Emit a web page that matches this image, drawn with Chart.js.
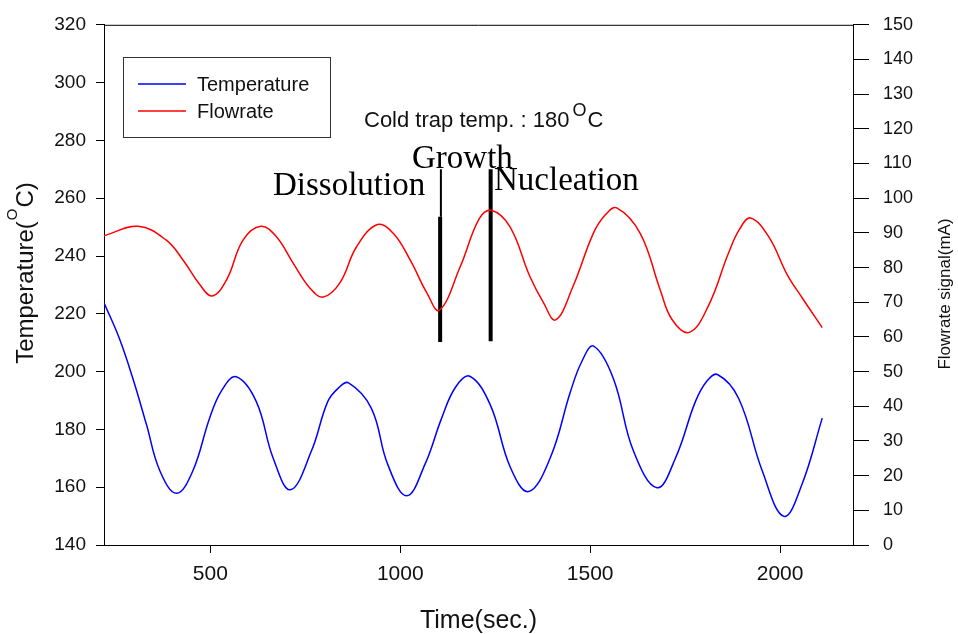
<!DOCTYPE html>
<html>
<head>
<title>Temperature / Flowrate</title>
<script src="https://cdn.jsdelivr.net/npm/chart.js@4.4.0/dist/chart.umd.min.js"></script>
<style>
body { margin:0; background:#ffffff; }
#wrap { width:958px; height:634px; }
</style>
</head>
<body>
<div id="wrap"><canvas id="myChart" width="958" height="634"></canvas></div>
<script>
// temperature (left axis, oC)
var tempTime  = [220, 261, 296, 332, 367, 411, 454, 498, 530, 568, 621, 665, 711, 766, 809, 837, 864, 924, 967, 1017, 1065, 1109, 1145,
                 1183, 1237, 1290, 1338, 1395, 1448, 1478, 1509, 1561, 1614, 1676, 1725, 1777, 1806, 1835, 1891, 1953, 2010, 2058, 2111];
var tempValue = [223.8, 211.3, 197.6, 181.6, 165.7, 157.9, 165.7, 183.9, 193.5, 198.2, 189.6, 170.2, 159.1, 172.5, 189.6, 194.3, 196.1, 187.3, 167.9, 157.0, 167.9, 183.9, 194.5,
                 198.4, 188.5, 166.8, 158.5, 170.2, 193.0, 203.5, 208.8, 197.6, 172.5, 159.8, 170.2, 189.6, 196.5, 199.0, 190.7, 165.7, 149.9, 161.1, 183.9];
// flowrate signal (right axis, mA)
var flowTime  = [220, 310, 384, 428, 472, 505, 543, 586, 633, 674, 718, 762, 797, 841, 885, 940, 982, 1026, 1070, 1103,
                 1158, 1208, 1240, 1289, 1341, 1377, 1409, 1455, 1508, 1540, 1570, 1632, 1684, 1715, 1761, 1811, 1864, 1893, 1922, 1970, 2019, 2058, 2111];
var flowValue = [89.2, 91.9, 87.9, 82.2, 75.1, 71.8, 76.5, 87.9, 91.9, 88.9, 81.3, 74.1, 71.5, 75.6, 86.0, 92.4, 89.8, 82.2, 72.7, 67.7,
                 80.3, 94.1, 96.5, 91.7, 77.5, 69.9, 64.9, 74.6, 89.8, 95.2, 97.2, 89.8, 73.7, 65.1, 61.3, 68.9, 84.1, 91.0, 94.3, 88.9, 77.9, 71.3, 62.7];
var xTicks = [500, 1000, 1500, 2000];
// phase markers (time, temperature-axis span)
var markerTime   = [1105, 1238];
var markerBottom = [210.2, 210.5];
var markerTop    = [253.6, 270.0];
var growthTop = 270.0;

var xMin = 220, xMax = 2192;
var tempMin = 140, tempMax = 320;
var flowMin = 0, flowMax = 150;

function pts(xs, ys) {
  return xs.map(function (x, i) { return { x: x, y: ys[i] }; });
}

var datasets = [
  { label: 'Temperature', data: pts(tempTime, tempValue), yAxisID: 'yT', borderColor: '#0000ff', borderWidth: 1.5, pointRadius: 0, tension: 0.4 },
  { label: 'Flowrate', data: pts(flowTime, flowValue), yAxisID: 'yF', borderColor: '#ff0000', borderWidth: 1.5, pointRadius: 0, tension: 0.4 }
];
markerTime.forEach(function (t, i) {
  datasets.push({ label: 'marker' + i, data: [{ x: t, y: markerBottom[i] }, { x: t, y: markerTop[i] }], yAxisID: 'yT',
    borderColor: '#000000', borderWidth: 4, pointRadius: 0, borderCapStyle: 'butt' });
});
datasets.push({ label: 'marker-thin', data: [{ x: markerTime[0] + 2, y: markerTop[0] }, { x: markerTime[0] + 2, y: growthTop }], yAxisID: 'yT',
  borderColor: '#000000', borderWidth: 2, pointRadius: 0, borderCapStyle: 'butt' });

var textPlugin = {
  id: 'texts',
  afterDraw: function (chart) {
    var ctx = chart.ctx, a = chart.chartArea;
    ctx.save();
    ctx.strokeStyle = '#000';
    ctx.lineWidth = 1;
    ctx.beginPath();
    ctx.moveTo(a.left, a.top + 0.5);
    ctx.lineTo(a.right, a.top + 0.5);
    ctx.stroke();

    // legend box
    ctx.strokeStyle = '#333';
    ctx.strokeRect(123.5, 57.5, 207, 80);
    ctx.lineWidth = 1.5;
    ctx.strokeStyle = '#0000ff';
    ctx.beginPath(); ctx.moveTo(138, 84); ctx.lineTo(186, 84); ctx.stroke();
    ctx.strokeStyle = '#ff0000';
    ctx.beginPath(); ctx.moveTo(138, 111); ctx.lineTo(186, 111); ctx.stroke();
    ctx.fillStyle = '#111';
    ctx.font = '20px "Liberation Sans", Arial, sans-serif';
    ctx.textBaseline = 'alphabetic';
    ctx.textAlign = 'left';
    ctx.fillText('Temperature', 197, 91);
    ctx.fillText('Flowrate', 197, 118);

    // cold trap note
    ctx.font = '22px "Liberation Sans", Arial, sans-serif';
    var s1 = 'Cold trap temp. : 180';
    ctx.fillText(s1, 364, 127);
    var w1 = ctx.measureText(s1).width;
    ctx.font = '18px "Liberation Sans", Arial, sans-serif';
    ctx.fillText('O', 364 + w1 + 3, 116);
    var w2 = ctx.measureText('O').width;
    ctx.font = '22px "Liberation Sans", Arial, sans-serif';
    ctx.fillText('C', 364 + w1 + 4 + w2, 127);

    // phase labels
    ctx.font = '33px "Liberation Serif", "Times New Roman", serif';
    ctx.fillStyle = '#000';
    ctx.fillText('Dissolution', 273, 195);
    ctx.fillText('Growth', 412, 168);
    ctx.fillText('Nucleation', 494, 190);

    // x title
    ctx.fillStyle = '#111';
    ctx.font = '25px "Liberation Sans", Arial, sans-serif';
    ctx.textAlign = 'center';
    ctx.fillText('Time(sec.)', (a.left + a.right) / 2, 628);

    // left title with superscript
    ctx.save();
    ctx.translate(33, 273);
    ctx.rotate(-Math.PI / 2);
    ctx.textAlign = 'left';
    ctx.font = '24px "Liberation Sans", Arial, sans-serif';
    var p1 = 'Temperature(', p3 = 'C)';
    var wa = ctx.measureText(p1).width, wc = ctx.measureText(p3).width;
    ctx.font = '15px "Liberation Sans", Arial, sans-serif';
    var wb = ctx.measureText('O').width;
    var start = -(wa + wb + wc + 2) / 2;
    ctx.font = '24px "Liberation Sans", Arial, sans-serif';
    ctx.fillText(p1, start, 0);
    ctx.font = '15px "Liberation Sans", Arial, sans-serif';
    ctx.fillText('O', start + wa + 1, -16);
    ctx.font = '24px "Liberation Sans", Arial, sans-serif';
    ctx.fillText(p3, start + wa + wb + 2, 0);
    ctx.restore();

    // right title
    ctx.save();
    ctx.translate(950, 294);
    ctx.rotate(-Math.PI / 2);
    ctx.textAlign = 'center';
    ctx.font = '17px "Liberation Sans", Arial, sans-serif';
    ctx.fillText('Flowrate signal(mA)', 0, 0);
    ctx.restore();
    ctx.restore();
  }
};

var ctx = document.getElementById('myChart').getContext('2d');
var chart = new Chart(ctx, {
  type: 'line',
  data: { datasets: datasets },
  plugins: [textPlugin],
  options: {
    responsive: false,
    animation: false,
    layout: { padding: { top: 19, left: 0, right: 0, bottom: 0 } },
    plugins: { legend: { display: false }, tooltip: { enabled: false } },
    scales: {
      x: {
        type: 'linear', min: xMin, max: xMax,
        afterBuildTicks: function (s) { s.ticks = xTicks.map(function (v) { return { value: v }; }); },
        ticks: { padding: 9, color: '#111', callback: function (v) { return String(v); },
          font: { family: '"Liberation Sans", Arial', size: 21 } },
        grid: { drawOnChartArea: false, tickLength: 8, color: '#000' },
        border: { color: '#000', width: 1 },
        afterFit: function (s) { s.height = 89; }
      },
      yT: {
        type: 'linear', position: 'left', min: tempMin, max: tempMax,
        ticks: { stepSize: 20, padding: 10, color: '#111', font: { family: '"Liberation Sans", Arial', size: 19 } },
        grid: { drawOnChartArea: false, tickLength: 8, color: '#000' },
        border: { color: '#000', width: 1 },
        afterFit: function (s) { s.width = 104; }
      },
      yF: {
        type: 'linear', position: 'right', min: flowMin, max: flowMax,
        ticks: { stepSize: 10, padding: 14, color: '#111', font: { family: '"Liberation Sans", Arial', size: 18 } },
        grid: { drawOnChartArea: false, tickLength: 16, color: '#000' },
        border: { color: '#000', width: 1 },
        afterFit: function (s) { s.width = 105; }
      }
    }
  }
});
</script>
</body>
</html>
